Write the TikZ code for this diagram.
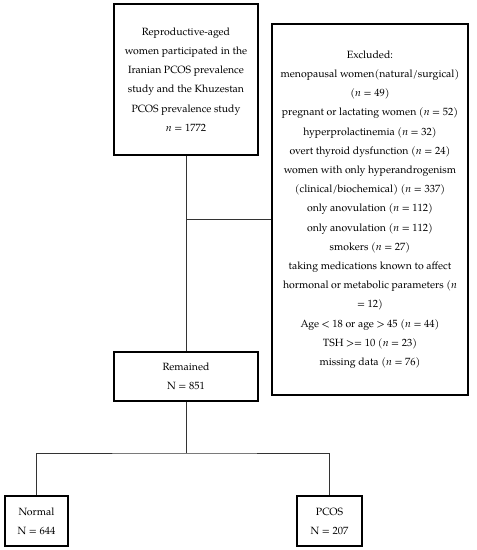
\documentclass[tikz,border=0pt]{standalone}
\usepackage{fontspec}
\setmainfont{TeX Gyre Pagella}
\usepackage{tikz}
\usetikzlibrary{calc}
\tikzset{
    box/.style={draw=black,line width=1.1pt,align=center,inner sep=0pt,font=\fontsize{10.5}{19.2}\selectfont},
    link/.style={draw=black!80,line width=0.7pt}
}

\begin{document}
\begin{tikzpicture}[x=1pt,y=1pt]
\useasboundingbox(0,0)rectangle(477,-550);
\node[box,minimum width=144,minimum height=151](start)at(186,-79.5){Reproductive-aged\\women participated in the\\Iranian PCOS prevalence\\study and the Khuzestan\\PCOS prevalence study\\\textit{n} = 1772};
\node[box,minimum width=196,minimum height=371](excl)at(370,-209.5){Excluded:\\menopausal women(natural/surgical)\\(\textit{n} = 49)\\pregnant or lactating women (\textit{n} = 52)\\hyperprolactinemia (\textit{n} = 32)\\overt thyroid dysfunction (\textit{n} = 24)\\women with only hyperandrogenism\\(clinical/biochemical) (\textit{n} = 337)\\only anovulation (\textit{n} = 112)\\only anovulation (\textit{n} = 112)\\smokers (\textit{n} = 27)\\taking medications known to affect\\hormonal or metabolic parameters (\textit{n}\\= 12)\\Age < 18 or age > 45 (\textit{n} = 44)\\TSH >= 10 (\textit{n} = 23)\\missing data (\textit{n} = 76)};
\node[box,minimum width=144,minimum height=49](remained)at(186,-376.5){Remained\\N = 851};
\node[box,minimum width=63,minimum height=50](normal)at(36.5,-521){Normal\\N = 644};
\node[box,minimum width=65,minimum height=50](pcos)at(329.5,-521){PCOS\\N = 207};

\coordinate(split)at(186,-219);
\coordinate(fork)at(186,-453);
\draw[link](start.south)--(remained.north);
\draw[link](split)--(split-|excl.west);
\draw[link](remained.south)--(fork);
\draw[link](normal.north)|-(fork)-|(pcos.north);
\end{tikzpicture}
\end{document}
